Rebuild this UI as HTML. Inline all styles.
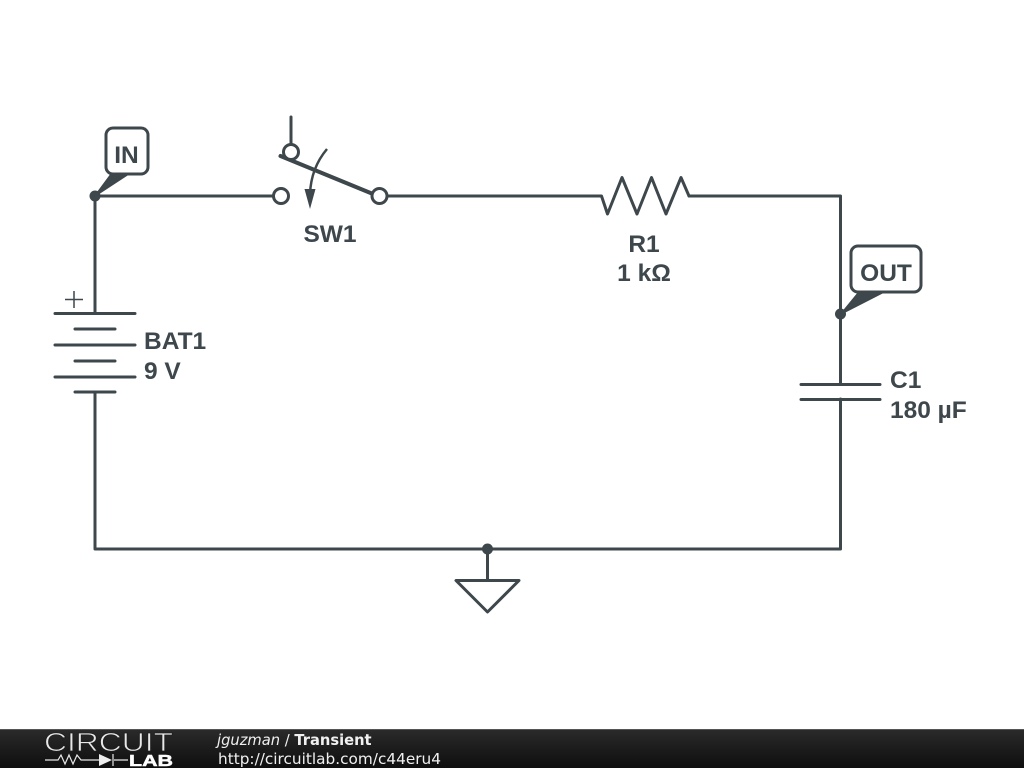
<!DOCTYPE html>
<html><head><meta charset="utf-8"><style>
html,body{margin:0;padding:0;background:#fff}
svg{display:block}
.l{font:bold 24.500px "Liberation Sans",sans-serif;fill:#3d474c}
.w{fill:none;stroke:#3d474c;stroke-width:3;stroke-linecap:round;stroke-linejoin:round}
</style></head><body>
<svg width="1024" height="768" viewBox="0 0 1024 768" xmlns="http://www.w3.org/2000/svg">
<defs><linearGradient id="g" x1="0" y1="0" x2="0" y2="1"><stop offset="0" stop-color="#2b2b2b"/><stop offset=".5" stop-color="#1c1c1c"/><stop offset="1" stop-color="#0f0f0f"/></linearGradient></defs>
<rect width="1024" height="768" fill="#fff"/>
<!-- wires -->
<path class="w" d="M95 313V196H273M388 196H601M689 196H840.500V384M840.500 399V549H95V392M487.500 549V580M291 117V144"/>
<!-- battery -->
<path class="w" d="M55 313.500H135M75 329H115M55 345H135M75 361H115M55 377H135M75 392H115"/>
<path d="M65 299.500H83M74 291V308" fill="none" stroke="#3d474c" stroke-width="1.500"/>
<!-- switch -->
<path d="M280.500 156L373 194" fill="none" stroke="#3d474c" stroke-width="4" stroke-linecap="round"/>
<circle cx="291" cy="152" r="7.500" fill="#fff" stroke="#3d474c" stroke-width="3"/>
<circle cx="281" cy="196" r="7.500" fill="#fff" stroke="#3d474c" stroke-width="3"/>
<circle cx="379.500" cy="196" r="7.500" fill="#fff" stroke="#3d474c" stroke-width="3"/>
<path d="M327 149Q311 168 310 194" fill="none" stroke="#3d474c" stroke-width="2.500"/>
<path d="M304.500 189L315.500 189L310 209Z" fill="#3d474c"/>
<!-- resistor -->
<path class="w" d="M601 196H601.500L607.500 214L622 177.500L637 214L651.500 177.500L666 214L681 177.500L689 196"/>
<!-- capacitor -->
<path class="w" d="M801 384.500H880M801 399.500H880"/>
<!-- ground -->
<path class="w" d="M456 580.500H519L487.500 612Z"/>
<!-- junctions -->
<circle cx="95" cy="196" r="5.500" fill="#3d474c"/>
<circle cx="840.500" cy="314" r="5.500" fill="#3d474c"/>
<circle cx="487.500" cy="549" r="5.500" fill="#3d474c"/>
<!-- IN tag -->
<path d="M95 196L112 173H130Z" fill="#3d474c" stroke="#3d474c" stroke-width="1.500" stroke-linejoin="round"/>
<rect x="106" y="128" width="42" height="46" rx="7" fill="#fff" stroke="#3d474c" stroke-width="3"/>
<text class="l" x="126.500" y="163" text-anchor="middle">IN</text>
<!-- OUT tag -->
<path d="M841 314L859 292H884Z" fill="#3d474c" stroke="#3d474c" stroke-width="1.500" stroke-linejoin="round"/>
<rect x="851" y="246" width="70" height="46" rx="7" fill="#fff" stroke="#3d474c" stroke-width="3"/>
<text class="l" x="886" y="281" text-anchor="middle">OUT</text>
<!-- labels -->
<text class="l" x="330" y="242" text-anchor="middle">SW1</text>
<text class="l" x="644" y="252" text-anchor="middle">R1</text>
<text class="l" x="644" y="281" text-anchor="middle">1 kΩ</text>
<text class="l" x="144" y="349">BAT1</text>
<text class="l" x="144" y="379">9 V</text>
<text class="l" x="890" y="388">C1</text>
<text class="l" x="890" y="418">180 µF</text>
<!-- footer -->
<rect x="0" y="729" width="1024" height="39" fill="url(#g)"/>
<rect x="0" y="729" width="1024" height="1" fill="#555"/>
<text x="44" y="751" font-family="Liberation Sans,sans-serif" font-size="26" fill="#e8e8e8" stroke="#1f1f1f" stroke-width=".8" textLength="129" lengthAdjust="spacingAndGlyphs" style="paint-order:fill stroke">CIRCUIT</text>
<path d="M45 760H58L61 755L65 764L69 755L73 764L77 755L81 760H99M114 760H128M113 754V766" fill="none" stroke="#e8e8e8" stroke-width="1.200"/>
<path d="M99 754L112 760L99 766Z" fill="#eee"/>
<text x="129" y="766" font-family="Liberation Sans,sans-serif" font-weight="bold" font-size="16" fill="#fff" stroke="#fff" stroke-width=".5" textLength="44" lengthAdjust="spacingAndGlyphs">LAB</text>
<text x="217" y="745" font-family="DejaVu Sans,sans-serif" font-size="14.700" fill="#f0f0f0"><tspan font-style="italic">jguzman</tspan> / <tspan font-weight="bold">Transient</tspan></text>
<text x="218" y="764" font-family="DejaVu Sans,sans-serif" font-size="15.500" fill="#f0f0f0" textLength="223" lengthAdjust="spacingAndGlyphs">http://circuitlab.com/c44eru4</text>
</svg>
</body></html>
